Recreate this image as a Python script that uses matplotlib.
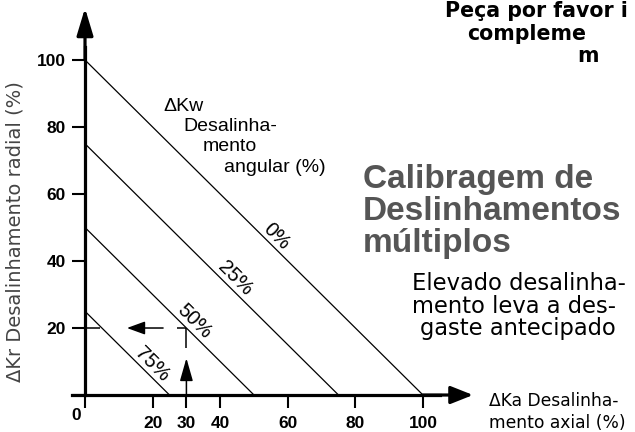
import matplotlib
import matplotlib.pyplot as plt

matplotlib.use('Agg')

# angular misalignment lines (percent)
angular_pct = [0, 25, 50, 75]
angular_labels = ['0%', '25%', '50%', '75%']
# where the labels sit along each line (axial value)
label_x = [54.7, 42.3, 30.2, 17.8]

x_ticks = [0, 20, 30, 40, 60, 80, 100]
x_tick_labels = ['', '20', '30', '40', '60', '80', '100']
y_ticks = [0, 20, 40, 60, 80, 100]
y_tick_labels = ['', '20', '40', '60', '80', '100']

# example reading: 30% axial -> 20% radial
example_ka = 30
example_kr = 20

W, H = 635, 432
fig = plt.figure(figsize=(W / 100, H / 100), dpi=100)
ax = fig.add_axes([0, 0, 1, 1])
ax.set_xlim(-25.15, 162.72)
ax.set_ylim(-11.04, 117.91)


def fx(px):
    return px / W


def fy(py):
    return 1 - py / H


for s in ['top', 'right']:
    ax.spines[s].set_visible(False)
ax.spines['left'].set_position(('data', 0))
ax.spines['bottom'].set_position(('data', 0))
ax.spines['left'].set_bounds(0, 104)
ax.spines['bottom'].set_bounds(-3.9, 105)
ax.spines['left'].set_linewidth(2.3)
ax.spines['bottom'].set_linewidth(2.3)

tick_font = dict(family='Liberation Sans', weight='bold', size=12.5)
ax.set_xticks(x_ticks)
ax.set_xticklabels(x_tick_labels, fontdict=tick_font)
ax.set_yticks(y_ticks)
ax.set_yticklabels(y_tick_labels, fontdict=tick_font)
ax.tick_params(direction='out', length=9.4, width=1.5, pad=4.5)
ax.tick_params(axis='x', pad=5.5)

ax.annotate('0', xy=(0, 0), xytext=(-6.5, -18), textcoords='offset points',
            ha='center', va='baseline', fontsize=12.5, fontweight='bold',
            family='Liberation Sans')

# axis arrows
ax.annotate('', xy=(0, 115.5), xytext=(0, 100),
            arrowprops=dict(arrowstyle='-|>,head_length=0.83,head_width=0.25',
                            lw=2.3, color='k', mutation_scale=20,
                            shrinkA=0, shrinkB=0))
ax.annotate('', xy=(114.8, 0), xytext=(100, 0),
            arrowprops=dict(arrowstyle='-|>,head_length=0.68,head_width=0.27',
                            lw=2.3, color='k', mutation_scale=20,
                            shrinkA=0, shrinkB=0))

# diagonal lines
for pct, lab, lx in zip(angular_pct, angular_labels, label_x):
    c = 100 - pct
    ax.plot([0, c], [c, 0], color='k', lw=0.9, solid_capstyle='butt')
    ax.annotate(lab, xy=(lx, c - lx), xytext=(5, 5), textcoords='offset points',
                ha='center', va='center', rotation=-45, rotation_mode='anchor',
                fontsize=14.5, family='Liberation Sans')

# guide for the example reading
ka, kr = example_ka, example_kr
guide = dict(color='k', lw=1.1, solid_capstyle='butt')
ax.plot([-3.9, 4.4], [kr, kr], **guide)
ax.plot([27.2, ka], [kr, kr], **guide)
ax.plot([ka, ka], [14, kr], **guide)
ax.annotate('', xy=(12.4, kr), xytext=(23.1, kr),
            arrowprops=dict(arrowstyle='-|>,head_length=0.55,head_width=0.2',
                            lw=1.1, color='k', mutation_scale=20,
                            shrinkA=0, shrinkB=0))
ax.annotate('', xy=(ka, 11), xytext=(ka, 0),
            arrowprops=dict(arrowstyle='-|>,head_length=0.7,head_width=0.2',
                            lw=1.1, color='k', mutation_scale=20,
                            shrinkA=0, shrinkB=0))

# y axis title
fig.text(fx(15), fy(232), 'ΔKr Desalinhamento radial (%)', rotation=90,
         ha='center', va='center', fontsize=14, color='#444444',
         family='DejaVu Sans')

# angular label block
kw_lines = [('ΔKw', 163, 111), ('Desalinha-', 183, 131),
            ('mento', 203, 151), ('angular (%)', 224, 172)]
for t, px, py in kw_lines:
    fig.text(fx(px), fy(py), t, ha='left', va='baseline', fontsize=14,
             family='Liberation Sans')

# axial label block
for t, px, py in [('ΔKa Desalinha-', 489, 406), ('mento axial (%)', 489, 428)]:
    fig.text(fx(px), fy(py), t, ha='left', va='baseline', fontsize=12.3,
             family='DejaVu Sans')

# header text (cut at the right edge)
for t, px, py in [('Peça por favor i', 445, 17), ('compleme', 467, 40), ('m', 577, 62)]:
    fig.text(fx(px), fy(py), t, ha='left', va='baseline', fontsize=14.8,
             fontweight='bold', family='DejaVu Sans')

# title
for t, py in [('Calibragem de', 188), ('Deslinhamentos', 220), ('múltiplos', 252)]:
    fig.text(fx(363), fy(py), t, ha='left', va='baseline', fontsize=24,
             fontweight='bold', color='#555555', family='Liberation Sans')

for t, px, py in [('Elevado desalinha-', 412, 290), ('mento leva a des-', 412, 313),
                  ('gaste antecipado', 420, 335)]:
    fig.text(fx(px), fy(py), t, ha='left', va='baseline', fontsize=16.3,
             family='DejaVu Sans')

fig.savefig('out.png', dpi=100)
